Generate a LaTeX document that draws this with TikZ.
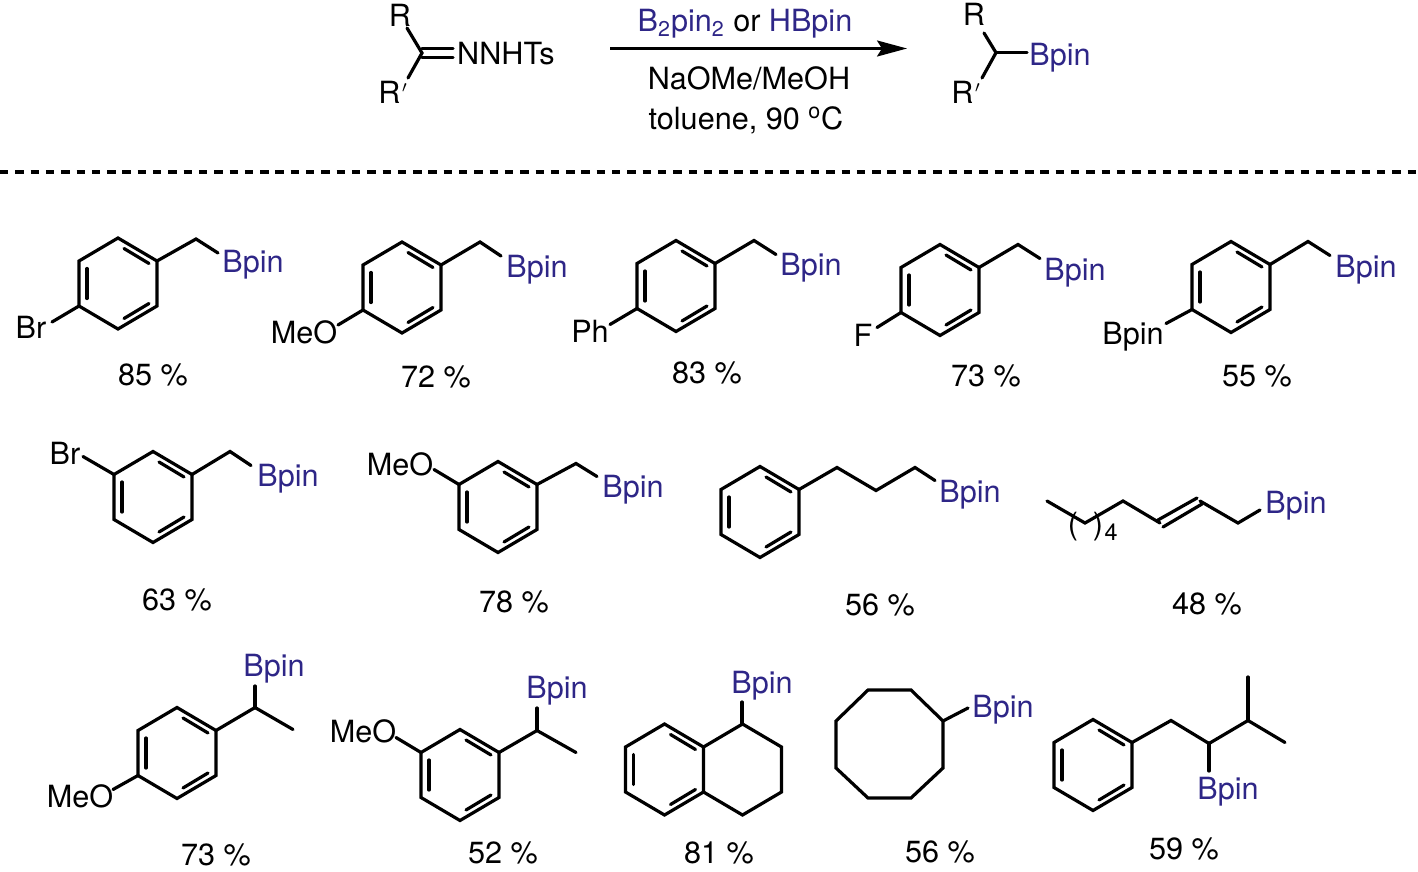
\documentclass[tikz,border=0pt]{standalone}
\usepackage{fontspec}
\setmainfont{TeX Gyre Heros}
\usepackage{tikz}
\usetikzlibrary{arrows.meta}
\definecolor{borylblue}{RGB}{46,38,135}
% ring corners are kept as coordinates: t, ur, lr, b, ll, ul
\newcommand{\sixring}[3]{
  \coordinate (#1-t) at (#2,#3-45.5);
  \coordinate (#1-ur) at (#2+39,#3-22.5);
  \coordinate (#1-lr) at (#2+39,#3+22.5);
  \coordinate (#1-b) at (#2,#3+45.5);
  \coordinate (#1-ll) at (#2-39,#3+22.5);
  \coordinate (#1-ul) at (#2-39,#3-22.5);
  \draw[bond] (#1-t) -- (#1-ur) -- (#1-lr) -- (#1-b) -- (#1-ll) -- (#1-ul) -- cycle;
  \draw[bond] (#2-31,#3-15) -- (#2-31,#3+15);
  \draw[bond] (#2+6,#3-35) -- (#2+31,#3-20);
  \draw[bond] (#2+6,#3+35) -- (#2+31,#3+20);
}
\newcommand{\rprime}{R\kern0.8pt$^{\scriptscriptstyle\prime}$}
\begin{document}
\begin{tikzpicture}[
    x=0.5pt,y=-0.5pt,
    bond/.style={line width=1.6pt,line join=miter,line cap=round,draw=black},
    atomlabel/.style={font=\fontsize{15.3pt}{18pt}\selectfont,inner sep=0pt,text height=0.72em,text depth=0pt,yshift=-1.5pt},
    boryl/.style={atomlabel,text=borylblue},
    reagent/.style={atomlabel},
    yieldlabel/.style={atomlabel},
    rxnarrow/.style={line width=1.25pt,-{Stealth[length=15pt,width=8pt,inset=2.5pt]}},
    sepline/.style={line width=1.6pt,dash pattern=on 4.2pt off 3.45pt},
  ]
  \useasboundingbox (0,0) rectangle (1418,872);

  % scheme on top
  \coordinate (sm) at (422,53);
  \node[atomlabel] (smR) at (400,16) {R};
  \node[atomlabel,anchor=west] (smRp) at (378,93) {\rprime};
  \node[atomlabel] (smN) at (506,54) {NNHTs};
  \draw[bond] (407,28) -- (sm) -- (408,78);
  \draw[bond] (422,48.5) -- (453,48.5);
  \draw[bond] (422,57.5) -- (453,57.5);
  \coordinate (arrowL) at (610,48.5);
  \coordinate (arrowR) at (907,48.5);
  \draw[rxnarrow] (arrowL) -- (arrowR);
  \node[reagent] (reag1) at (745,21) {\textcolor{borylblue}{B\textsubscript{2}pin\textsubscript{2}} or \textcolor{borylblue}{HBpin}};
  \node[reagent] (reag2) at (749,79) {NaOMe/MeOH};
  \node[reagent] (reag3) at (746,119) {toluene, 90 \textsuperscript{o}C};
  \coordinate (pr) at (996,52.7);
  \node[atomlabel] (prR) at (974,15) {R};
  \node[atomlabel,anchor=west] (prRp) at (951,93) {\rprime};
  \node[boryl] (prB) at (1060,55) {Bpin};
  \draw[bond] (984,33) -- (pr) -- (982,78);
  \draw[bond] (pr) -- (1027,52.7);
  \coordinate (sepL) at (0,172);
  \coordinate (sepR) at (1418,172);
  \draw[sepline] (sepL) -- (sepR);

  % first row
  \sixring{r1}{118}{283.5}
  \draw[bond] (r1-ur) -- ++(39,-22) -- ++(22,14);
  \draw[bond] (r1-ll) -- ++(-27,16);
  \node[atomlabel] (s1) at (31,328) {Br};
  \sixring{r2}{402}{287.5}
  \draw[bond] (r2-ur) -- ++(39,-23) -- ++(21,14);
  \draw[bond] (r2-ll) -- ++(-25,15);
  \node[atomlabel] (s2) at (304,333) {MeO};
  \sixring{r3}{676}{286}
  \draw[bond] (r3-ur) -- ++(39,-23) -- ++(22,14);
  \draw[bond] (r3-ll) -- ++(-27,16);
  \node[atomlabel] (s3) at (590,332) {Ph};
  \sixring{r4}{940}{290}
  \draw[bond] (r4-ur) -- ++(39,-23) -- ++(22,14);
  \draw[bond] (r4-ll) -- ++(-24,15);
  \node[atomlabel] (s4) at (863,336) {F};
  \sixring{r5}{1231}{287}
  \draw[bond] (r5-ur) -- ++(38,-23) -- ++(22,14);
  \draw[bond] (r5-ll) -- ++(-26,14);
  \node[atomlabel] (s5) at (1133,334) {Bpin};

  % second row
  \sixring{r6}{153}{497}
  \draw[bond] (r6-ur) -- ++(38,-23) -- ++(21,14);
  \draw[bond] (r6-ul) -- ++(-31,-18);
  \node[atomlabel] (s6) at (65,454) {Br};
  \sixring{r7}{498}{507}
  \draw[bond] (r7-ur) -- ++(39,-21) -- ++(21,13);
  \draw[bond] (r7-ul) -- ++(-25,-15);
  \node[atomlabel] (s7) at (400,465) {MeO};
  \sixring{r8}{760}{512}
  \draw[bond] (r8-ur) -- ++(38,-22) -- ++(39,23) -- ++(39,-23) -- ++(20,13);
  \draw[bond] (1047,501) -- (1085,523) -- (1123,501) -- (1160,523);
  \draw[bond] (1158,520) -- (1197,498);
  \draw[bond] (1163,527) -- (1202,504);
  \draw[bond] (1200,501) -- (1238,523) -- (1260,510);
  \node[atomlabel] (brL) at (1073,524) {(};
  \node[atomlabel] (brR) at (1098,524) {)};
  \node[atomlabel,font=\fontsize{11.7pt}{14pt}\selectfont] (sub4) at (1111,530) {4};

  % third row
  \sixring{r10}{177}{753}
  \draw[bond] (r10-ur) -- ++(39,-23) -- ++(38,22);
  \draw[bond] (255,708) -- (255,686);
  \draw[bond] (r10-ll) -- ++(-25,14);
  \node[atomlabel] (s10) at (80,797) {MeO};
  \sixring{r11}{460}{775}
  \draw[bond] (r11-ur) -- ++(38,-22) -- ++(39,22);
  \draw[bond] (537,730) -- (537,708);
  \draw[bond] (r11-ul) -- ++(-25,-15);
  \node[atomlabel] (s11) at (363,732) {MeO};
  \sixring{r12}{664.5}{769.5}
  \draw[bond] (r12-ur) -- ++(39,-23) -- ++(39,23) -- ++(0,45) -- ++(-39,23) -- (r12-lr);
  \draw[bond] (742,724) -- (742,702);
  \draw[bond] (868,690) -- (911,690) -- (943,721) -- (943,768) -- (911,798) -- (868,798) -- (836,768) -- (836,721) -- cycle;
  \draw[bond] (943,721) -- (968,708);
  \sixring{r14}{1093}{765}
  \draw[bond] (r14-ur) -- ++(39,-22) -- ++(38,23) -- ++(39,-23) -- ++(37,22);
  \draw[bond] (1248,720) -- (1248,677);
  \draw[bond] (1209,743) -- (1209,771);

  % boron labels and yields
  \foreach \n/\x/\y in {1/253/262,2/537/267,3/811/265,4/1075/270,5/1366/267,
      6/288/476,7/633/487,8/970/492,9/1296/503,
      10/274/666,11/557/688,12/762/683,13/1003/707,14/1228/789}
    \node[boryl] (b\n) at (\x,\y) {Bpin};
  \foreach \n/\x/\y/\t in {1/153/375/85,2/436/377/72,3/707/373/83,4/986/376/73,5/1257/376/55,
      6/177/600/63,7/514/602/78,8/880/605/56,9/1207/604/48,
      10/216/855/73,11/503/853/52,12/719/853/81,13/940/852/56,14/1184/849/59}
    \node[yieldlabel] (y\n) at (\x,\y) {\t{} \%};
\end{tikzpicture}
\end{document}
